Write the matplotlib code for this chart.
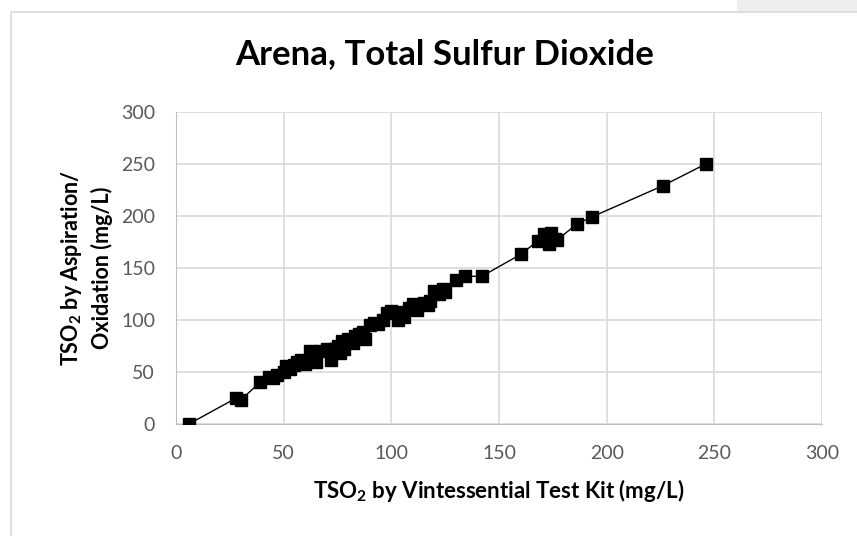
import numpy as np
import matplotlib
matplotlib.use("Agg")
from matplotlib import pyplot as plt
from matplotlib.patches import Rectangle

plt.rcParams['font.family'] = ['Lato', 'DejaVu Sans']
plt.rcParams['mathtext.fontset'] = 'custom'
plt.rcParams['mathtext.rm'] = 'Lato'
plt.rcParams['mathtext.bf'] = 'Lato:bold'

# TSO2 by test kit (x) vs by aspiration/oxidation (y), mg/L
kit = [6, 28, 30, 39, 43, 45, 47, 50, 51, 53, 55, 56, 58, 60, 62, 63, 65, 67,
       70, 72, 74, 75, 76, 77, 78, 80, 82, 83, 85, 87, 88, 90, 92, 94, 96, 98,
       100, 102, 103, 105, 106, 108, 110, 112, 115, 117, 118, 120, 122, 124,
       125, 130, 134, 142, 160, 168, 171, 173, 174, 176, 177, 186, 193, 226, 246]
aox = [0, 25, 23, 40, 45, 44, 47, 50, 56, 53, 57, 60, 62, 58, 70, 65, 60, 70,
       72, 62, 72, 75, 68, 80, 72, 82, 78, 85, 87, 88, 82, 95, 97, 96, 100, 107,
       109, 108, 100, 105, 103, 112, 115, 110, 116, 114, 118, 128, 125, 130,
       127, 138, 142, 142, 163, 176, 183, 173, 184, 178, 177, 192, 199, 229, 250]

ticks = [0, 50, 100, 150, 200, 250, 300]

fig = plt.figure(figsize=(8.57, 5.36), dpi=100)

# chart frame and shadow
fig.patches.append(Rectangle((737/857, 1 - 11/536), 120/857, 11/536, transform=fig.transFigure,
                             facecolor='#eeeeee', edgecolor='none', zorder=0))
fig.patches.append(Rectangle((11/857, -0.01), 1.0, 1 - 12/536 + 0.01, transform=fig.transFigure,
                             facecolor='white', edgecolor='#d9d9d9', linewidth=1.2, zorder=1))

ax = fig.add_axes([176/857, 1 - 424/536, 646/857, 312/536])
ax.set_zorder(2)

order = np.argsort(kit, kind='stable')
xs = np.array(kit)[order]
ys = np.array(aox)[order]
ax.plot(xs, ys, color='black', linewidth=1.0, zorder=3)
ax.plot(kit, aox, linestyle='none', marker='s', markersize=8.5, color='black', zorder=4)

ax.set_xlim(0, 300)
ax.set_ylim(0, 300)
ax.set_xticks(ticks)
ax.set_yticks(ticks)
ax.grid(True, color='#d9d9d9', linewidth=1.2)
ax.set_axisbelow(True)
for s in ax.spines.values():
    s.set_visible(False)
ax.spines['left'].set_visible(True)
ax.spines['bottom'].set_visible(True)
ax.spines['left'].set_color('#bfbfbf')
ax.spines['bottom'].set_color('#bfbfbf')
ax.tick_params(length=0, labelsize=14, labelcolor='#595959')
ax.tick_params(axis='x', pad=15)
ax.tick_params(axis='y', pad=15)

fig.text(445/857, 1 - 64/536, 'Arena, Total Sulfur Dioxide', fontsize=25,
         fontweight='bold', ha='center', va='baseline', zorder=5)
ax.set_xlabel(r'TSO$_\mathbf{2}$ by Vintessential Test Kit (mg/L)', fontsize=16,
              fontweight='bold', labelpad=11)
ax.set_ylabel('TSO$_\\mathbf{2}$ by Aspiration/\nOxidation (mg/L)', fontsize=15.5,
              fontweight='bold', labelpad=6, linespacing=1.35)

fig.savefig('out.png', dpi=100)
